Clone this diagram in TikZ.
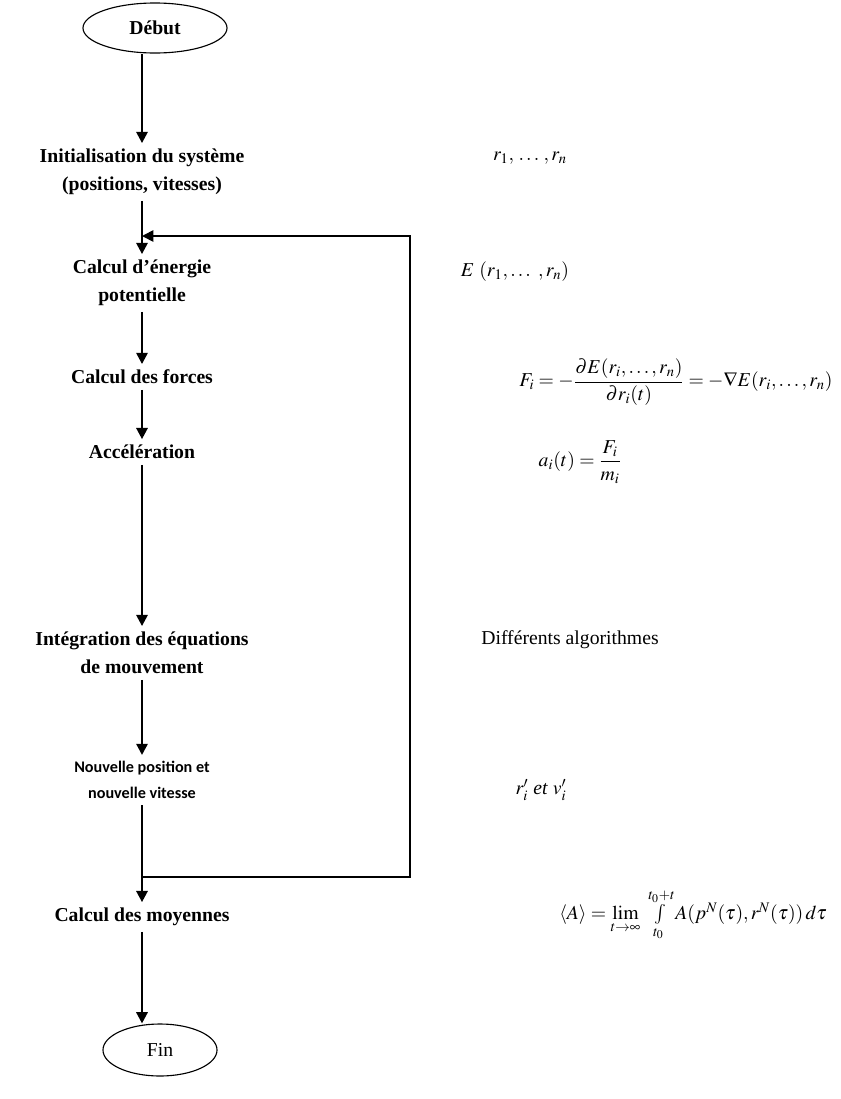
\documentclass[tikz,border=0pt]{standalone}
\usepackage{amsmath}
\usepackage{mathptmx}
\usepackage{fontspec}
\setmainfont{Liberation Serif}
\newfontfamily\calibrifont{Carlito}
\usetikzlibrary{arrows.meta, shapes.geometric}

\begin{document}
\begin{tikzpicture}[
        x=0.025cm,
        y=-0.025cm,
        etape/.style={
            align=center,
            inner sep=4pt,
            font=\fontsize{14}{20}\selectfont\bfseries
        },
        ovale/.style={
            draw,
            ellipse,
            line width=0.8pt,
            font=\fontsize{14}{16}\selectfont
        },
        formule/.style={
            font=\fontsize{14}{17}\selectfont
        },
        fleche/.style={
            draw=black,
            line width=1.7pt,
            -{Triangle[width=8pt,length=8pt]}
        },
        boucle/.style={
            draw=black,
            line width=1.2pt,
            -{Triangle[width=8pt,length=8pt]}
        }
    ]

        \useasboundingbox (0,0) rectangle (841,1099);

        % Colonne de gauche : etapes
        \node[ovale, minimum width=3.6cm, minimum height=1.25cm,
            font=\fontsize{14}{16}\selectfont\bfseries] (debut)
            at (155,28) {Début};
        \node[etape] (init) at (142,172)
            {Initialisation du système\\(positions, vitesses)};
        \node[etape] (energie) at (142,283)
            {Calcul d’énergie\\potentielle};
        \node[etape] (forces) at (142,377)
            {Calcul des forces};
        \node[etape] (accel) at (142,452)
            {Accélération};
        \node[etape] (integ) at (142,653)
            {Intégration des équations\\de mouvement};
        \node[etape, font=\fontsize{11.5}{19}\selectfont\calibrifont\bfseries] (nouvelle)
            at (142,780) {Nouvelle position et\\nouvelle vitesse};
        \node[etape] (moyennes) at (142,917)
            {Calcul des moyennes};
        \node[ovale, minimum width=2.85cm, minimum height=1.3cm] (fin)
            at (160,1050) {Fin};

        % Colonne de droite : grandeurs
        \node[formule] (fpos) at (530,158) {$r_1,\, \ldots\, , r_n$};
        \node[formule] (fener) at (515,272) {$E\ (r_1,\ldots\ , r_n)$};
        \node[formule] (fforce) at (676,382)
            {$F_i = -\dfrac{\partial E(r_i,\ldots,r_n)}{\partial r_i(t)}
              = -\nabla E(r_i,\ldots,r_n)$};
        \node[formule] (faccel) at (580,462) {$a_i(t) = \dfrac{F_i}{m_i}$};
        \node[formule] (falgo) at (570,640) {Différents algorithmes};
        \node[formule] (fnouv) at (541,790) {$r'_i$ \textit{et} $v'_i$};
        \node[formule] (fmoy) at (693,915)
            {$\langle A\rangle = \lim\limits_{t\to\infty}\;
              \int\limits_{t_0}^{t_0+t} A(p^N(\tau), r^N(\tau))\,d\tau$};

        % Points de la boucle
        \coordinate (retour) at (142,236);
        \coordinate (depart) at (142,877);
        \coordinate (coinbas) at (410,877);
        \coordinate (coinhaut) at (410,236);

        % Fleches
        \draw[fleche] (debut.south -| init.north) -- (init.north);
        \draw[fleche] (init) -- (energie);
        \draw[fleche] (energie) -- (forces);
        \draw[fleche] (forces) -- (accel);
        \draw[fleche] (accel) -- (integ);
        \draw[fleche] (integ) -- (nouvelle);
        \draw[fleche] (nouvelle) -- (moyennes);
        \draw[fleche] (moyennes.south) -- (moyennes.south |- fin.north);

        % Retour vers le calcul d'energie
        \draw[boucle] (depart) -- (coinbas) -- (coinhaut) -- (retour);

\end{tikzpicture}
\end{document}
